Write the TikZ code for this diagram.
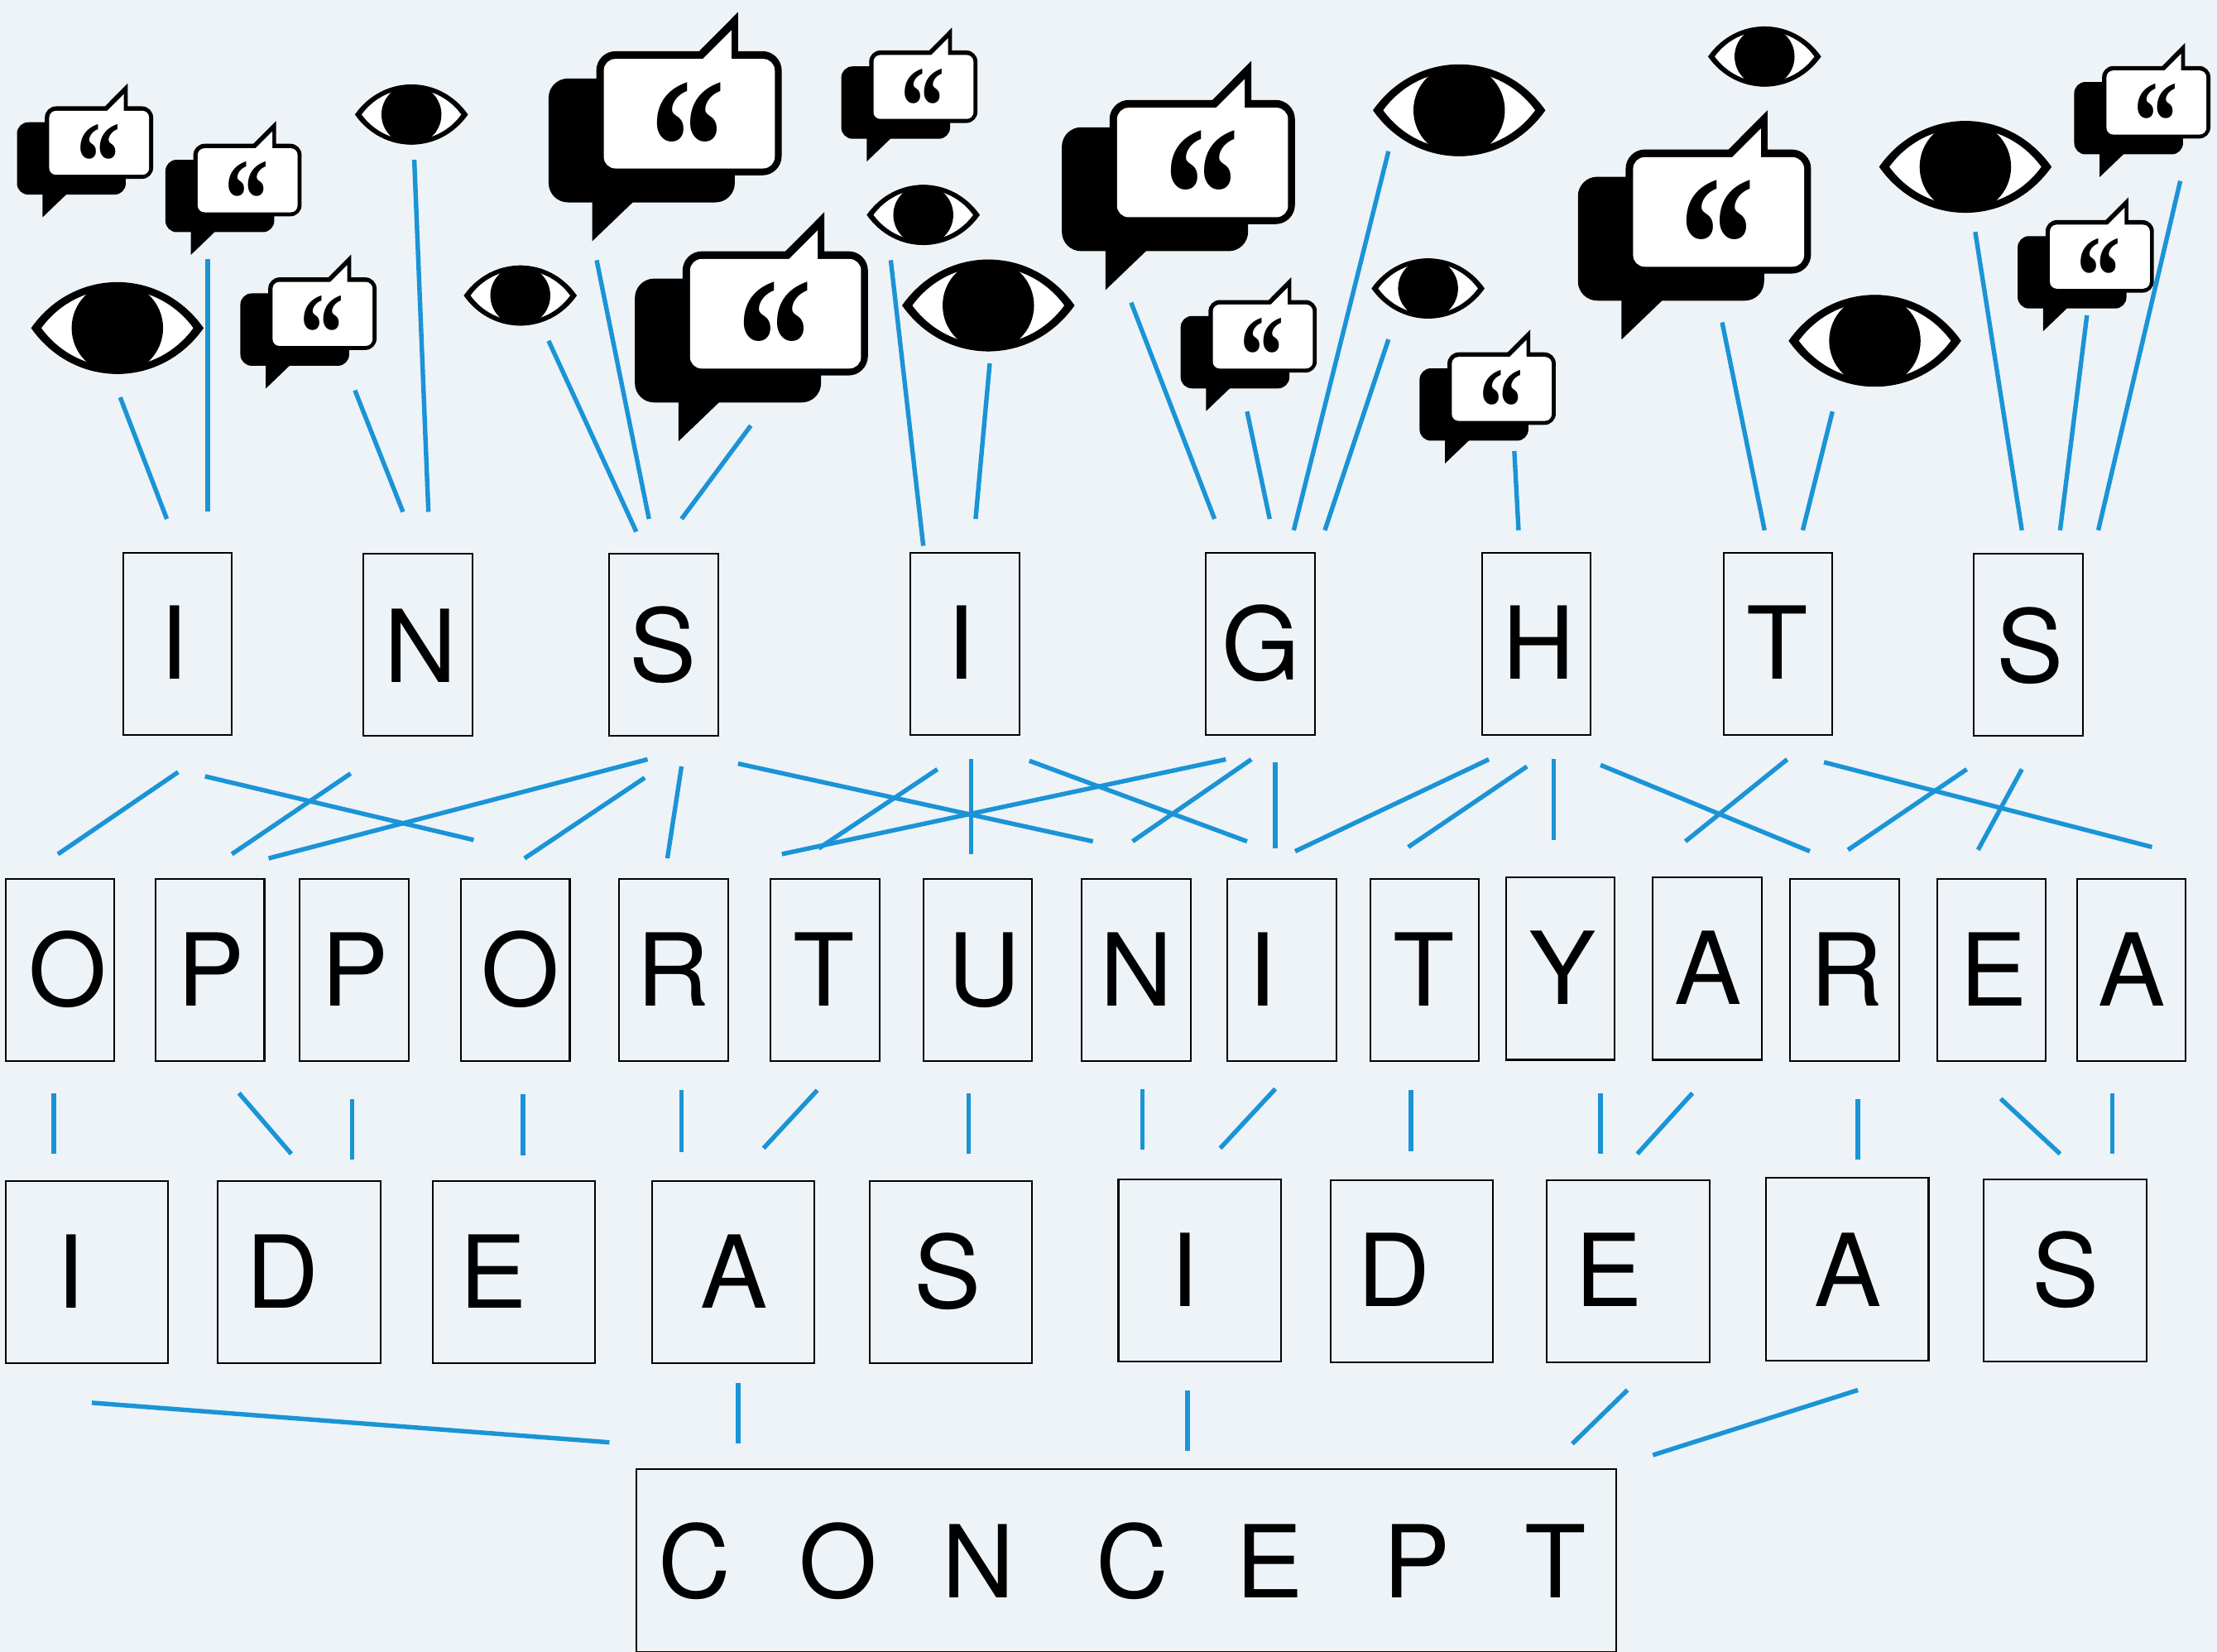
\documentclass[tikz,border=0pt]{standalone}
\usepackage{fontspec}
\setmainfont{TeX Gyre Heros}
\newfontfamily\quotefont{Liberation Serif}
\definecolor{paper}{HTML}{EEF3F8}
\definecolor{linkblue}{HTML}{1A94D6}
\tikzset{
  letterbox/.style={draw=black, line width=0.7pt, inner sep=0pt, minimum width=1.54cm, minimum height=2.58cm},
  widebox/.style={letterbox, minimum width=2.3cm},
  glyph/.style={inner sep=0pt, anchor=base, font=\fontsize{40.5}{41}\selectfont},
  link/.style={draw=linkblue, line width=1.8pt},
  pics/eye/.style={code={
    \begin{scope}[scale=#1]
      \fill[black] (-100,0) .. controls (-50,71) and (50,71) .. (100,0) .. controls (50,-71) and (-50,-71) .. (-100,0) -- cycle;
      \fill[white] (-88,0) .. controls (-44,60) and (44,60) .. (88,0) .. controls (44,-60) and (-44,-60) .. (-88,0) -- cycle;
      \fill[black] (0,0) circle (53);
    \end{scope}}},
  pics/bubble/.style={code={
    \begin{scope}[scale=#1]
      \fill[black, rounded corners=#1*70*0.02cm] (0,241) rectangle (675,690);
      \fill[black] (158,677) -- (158,831) -- (305,690) -- (305,677) -- cycle;
      \fill[black, rounded corners=#1*70*0.02cm] (173,142) rectangle (845,592);
      \fill[black] (540,148) -- (687,0) -- (687,148) -- cycle;
      \fill[white, rounded corners=#1*42*0.02cm] (200,170) rectangle (820,567);
      \fill[white] (550,179) -- (663,66) -- (663,179) -- cycle;
      \node[transform shape, xscale=1.04, yscale=1.35, inner sep=0pt, font=\quotefont\bfseries\fontsize{300}{300}\selectfont] (-q) at (506,491) {“};
    \end{scope}}}
}
\begin{document}
\begin{tikzpicture}[x=0.02cm, y=-0.02cm]
\useasboundingbox (0,0) rectangle (1568,1168);
\fill[paper] (0,0) rectangle (1568,1168);
% letter rows
\foreach \n/\x/\y/\c/\tx/\ty in {a1/125.5/455.3/I/123/480.4, a2/295.5/456/N/297.5/482.3, a3/469.5/456/S/469/482.1, a4/682.5/455.5/I/680/480.3, a5/891.5/455.5/G/892/480.8, a6/1086.5/455.5/H/1088/480.3, a7/1257.5/455.5/T/1257/480.5, a8/1434.5/456/S/1436/482.3}{
  \node[letterbox] (\n) at (\x,\y) {};
  \node[glyph] (\n t) at (\tx,\ty) {\c};
}
\foreach \n/\x/\y/\c/\tx/\ty in {b1/42.5/686/O/48/711.5, b2/148.5/686/P/149/711.5, b3/250.5/686/P/251/711.5, b4/364.5/686/O/368/711.5, b5/476.5/686/R/476/711.5, b6/583.5/686/T/583/711.5, b7/691.5/686/U/696/711.5, b8/803.5/686/N/804/711.5, b9/906.5/686/I/893/711.5, b10/1007.5/686/T/1007/711.5, b11/1103.5/685/Y/1105/710, b12/1207.5/685/A/1208/710, b13/1304.5/686/R/1306/711.5, b14/1408.5/686/E/1410/711.5, b15/1507.5/686/A/1508/711.5}{
  \node[letterbox] (\n) at (\x,\y) {};
  \node[glyph] (\n t) at (\tx,\ty) {\c};
}
\foreach \n/\x/\y/\c/\tx/\ty in {c1/61.5/899.5/I/50/925.3, c2/211.5/899.5/D/200/925.3, c3/363.5/899.5/E/349/925.3, c4/518.5/899.5/A/519/925.3, c5/672.5/899.5/S/670/925.3, c6/848.5/898.5/I/838/924, c7/998.5/899/D/986/924, c8/1151.5/899/E/1138/924, c9/1306.5/897.5/A/1307/924, c10/1460.5/898.5/S/1461/924}{
  \node[widebox] (\n) at (\x,\y) {};
  \node[glyph] (\n t) at (\tx,\ty) {\c};
}
\node[letterbox, minimum width=13.86cm] (concept) at (796.5,1103.5) {};
\foreach \n/\c/\tx in {1/C/491, 2/O/593, 3/N/692, 4/C/801, 5/E/898, 6/P/1002, 7/T/1100}
  \node[glyph] (d\n) at (\tx,1130) {\c};
% speech bubbles and eyes
\foreach \n/\s/\x/\y in {1/.114/12/59, 2/.114/117/85.5, 3/.114/170/180, 4/.114/595/19.5, 5/.114/835/196, 6/.114/1004/233, 7/.114/1467/30.5, 8/.114/1427/139.5, 9/.1951/388/8.5, 10/.1951/449/150, 11/.1951/751/43, 12/.1951/1116/78}
  \pic (talk\n) at (\x,\y) {bubble=\s};
\foreach \s/\x/\y in {.61/83/232, .61/699/216, .61/1032/78, .61/1390/118, .61/1326/241, .40/291/81, .40/368/209, .40/653/152, .40/1010/204, .40/1248/40}
  \pic at (\x,\y) {eye=\s};
% blue strokes, none of them touches a box
\foreach \n/\xa/\ya/\xb/\yb in {
  p1/85/281/118/367, p2/147/183/147/362, p3/251/276/285/362, p4/293/113/303/362,
  p5/388/241/450/376, p6/422/184/459/367, p7/531/301/482/367, p8/630/184/653/386,
  p9/700/257/690/367, p10/800/214/859/367, p11/882/291/898/367, p12/982/107/915/375,
  p13/982/240/937/375, p14/1071/319/1074/375, p15/1218/228/1248/375, p16/1296/291/1275/375,
  p17/1397/164/1430/375, p18/1476/223/1457/375, p19/1542/128/1484/375,
  q1/126/546/41/604, q2/145/549/335/594, q3/248/547/164/604, q4/458/537/190/607,
  q5/456/550/371/607, q6/482/542/472/607, q7/522/540/773/595, q8/663/544/579/600,
  q9/687/537/687/604, q10/728/538/882/595, q11/867/537/553/604, q12/885/537/801/595,
  q13/902/539/902/600, q14/1053/537/916/602, q15/1080/542/996/599, q16/1099/537/1099/594,
  q17/1132/541/1280/602, q18/1264/537/1192/595, q19/1290/539/1522/599, q20/1391/544/1307/601,
  q21/1430/544/1399/601,
  r1/38/773/38/816, r2/169/773/206/816, r3/249/777/249/820, r4/370/774/370/817,
  r5/482/771/482/815, r6/578/771/540/812, r7/685/773/685/816, r8/808/770/808/813,
  r9/902/770/863/812, r10/998/771/998/814, r11/1132/773/1132/816, r12/1197/773/1158/816,
  r13/1314/777/1314/820, r14/1415/777/1457/816, r15/1494/773/1494/816,
  s1/65/992/431/1020, s2/522/978/522/1021, s3/840/983/840/1026, s4/1151/983/1112/1021,
  s5/1314/983/1169/1029}{
  \coordinate (\n a) at (\xa,\ya);
  \coordinate (\n b) at (\xb,\yb);
  \draw[link] (\n a) -- (\n b);
}
\end{tikzpicture}
\end{document}
